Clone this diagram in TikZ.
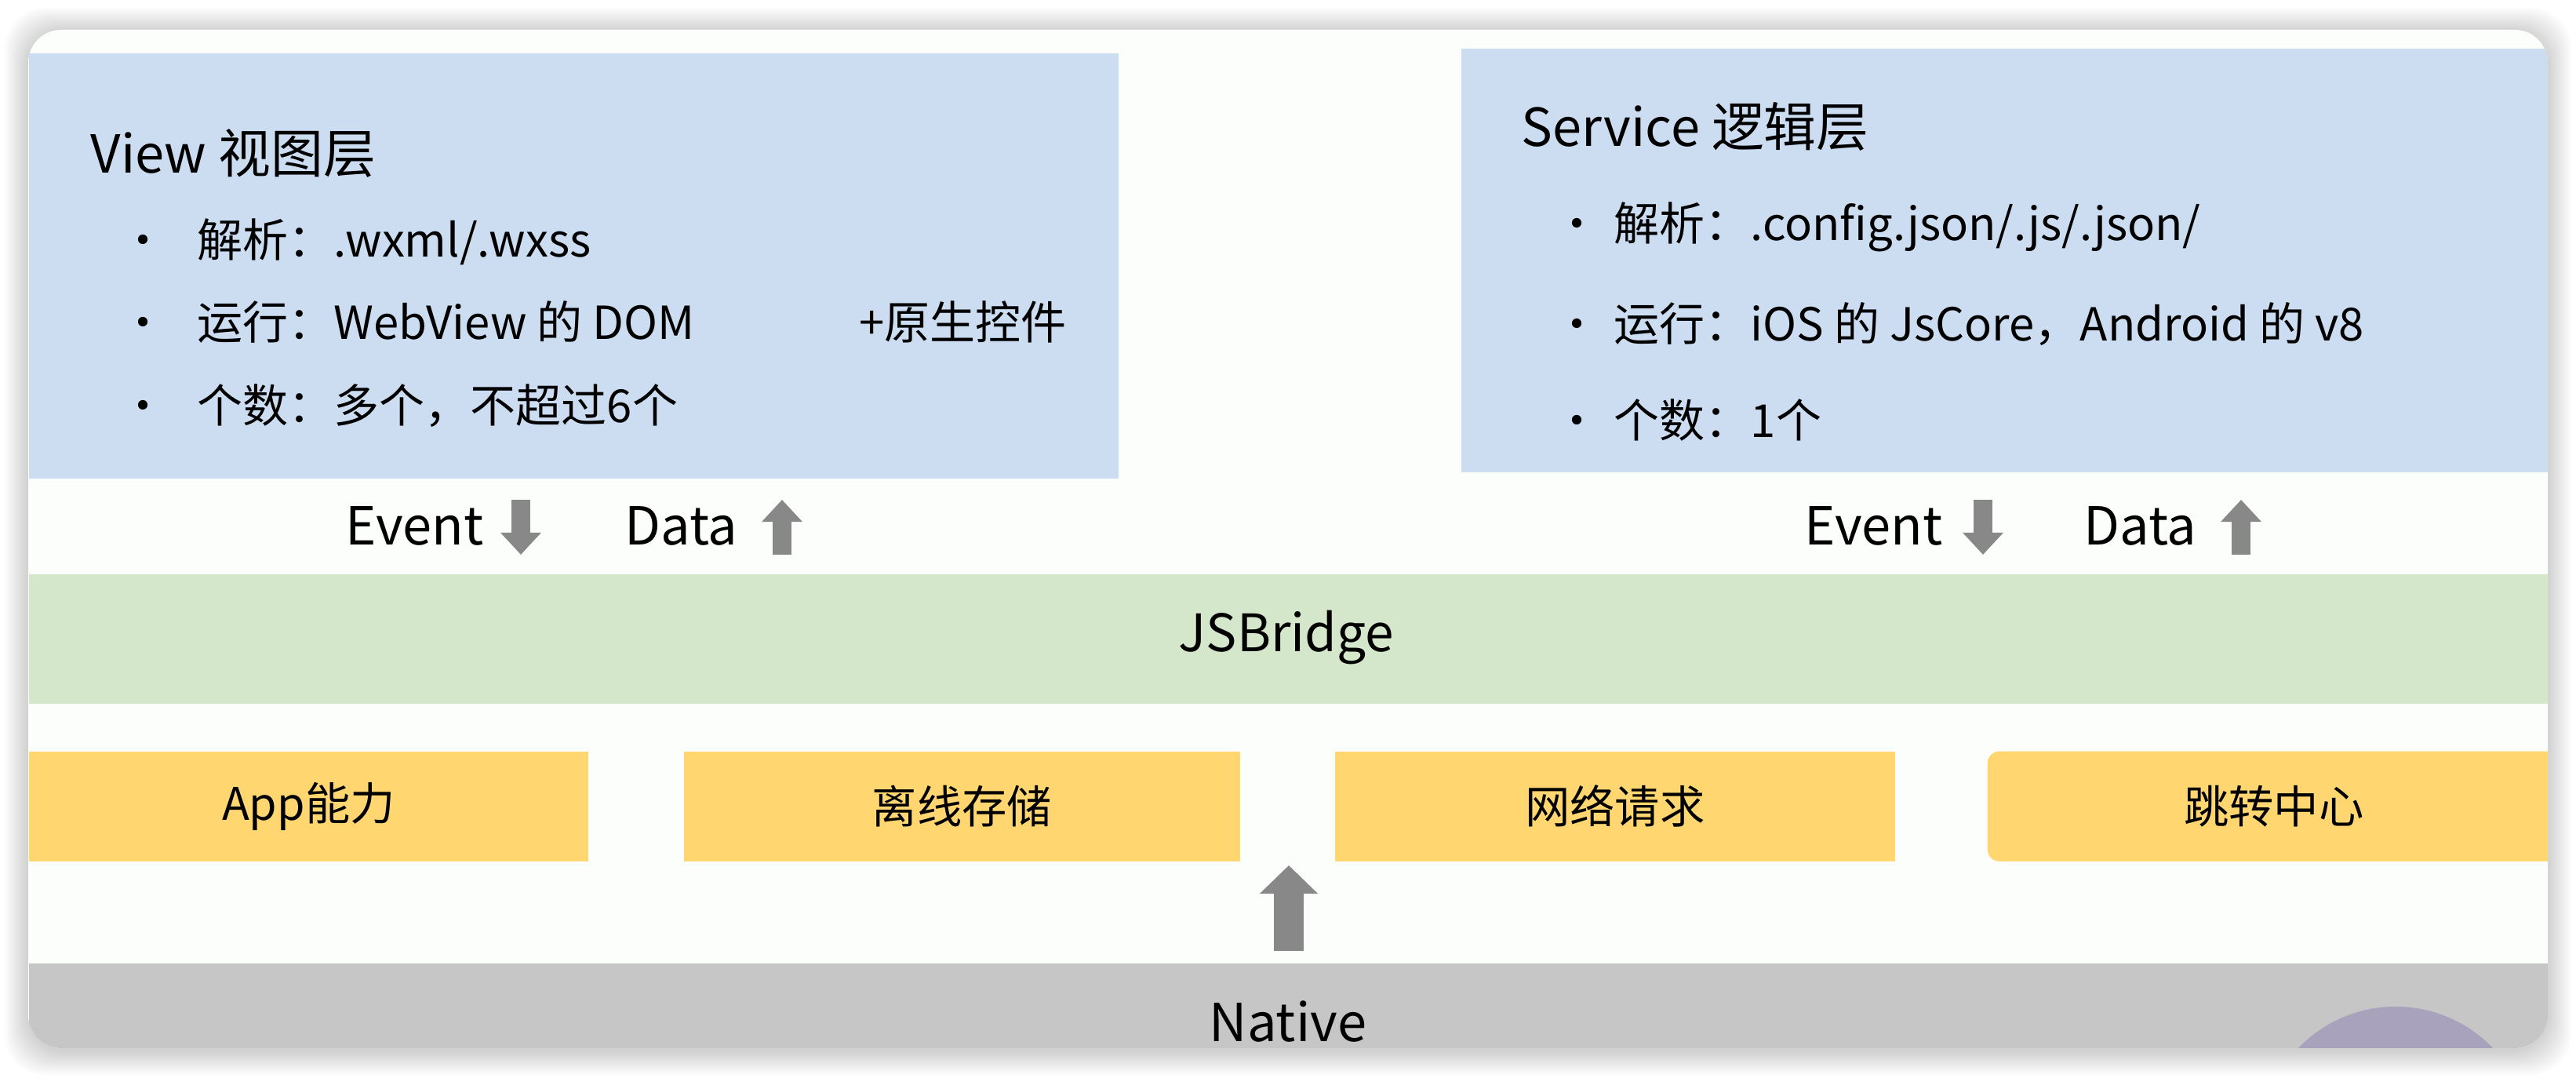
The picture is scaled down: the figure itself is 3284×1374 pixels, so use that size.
\documentclass[tikz,border=0pt]{standalone}
\usepackage{fontspec}
\setmainfont{Noto Sans CJK SC}
\usetikzlibrary{arrows.meta, positioning}
\definecolor{viewblue}{RGB}{204,221,241}
\definecolor{bridgegreen}{RGB}{213,231,203}
\definecolor{nativegrey}{RGB}{198,198,198}
\definecolor{apiyellow}{RGB}{255,214,112}
\definecolor{flowgrey}{RGB}{136,136,136}
\definecolor{cardwhite}{RGB}{252,254,252}
\definecolor{avatar}{RGB}{169,162,189}
\newcommand{\dotitem}[2]{\makebox[0pt][c]{•}\hspace{#1}#2}

\begin{document}
\begin{tikzpicture}[
  x=0.01cm, y=-0.01cm,
  every node/.style={inner sep=0pt, text=black},
  band/.style={anchor=north west, minimum width=32.12cm},
  title/.style={anchor=west, font=\fontsize{19pt}{22pt}\selectfont},
  item/.style={anchor=west, font=\fontsize{16.5pt}{20pt}\selectfont},
  flow/.style={anchor=west, font=\fontsize{19pt}{22pt}\selectfont},
  api/.style={fill=apiyellow, minimum width=7.13cm, minimum height=1.40cm,
    anchor=north west, font=\fontsize{16.3pt}{19pt}\selectfont},
  fatarr/.style={-{Triangle[width=0.50cm, length=0.28cm]}, line width=0.24cm, flowgrey},
  bigarr/.style={-{Triangle[width=0.72cm, length=0.36cm]}, line width=0.38cm, flowgrey}
]
\useasboundingbox (0,0) rectangle (3284,1374);
\fill[white] (0,0) rectangle (3284,1374);

% card shadow
\foreach \s in {2,4,...,30}
  \fill[black, opacity=0.01, rounded corners=0.5cm] ({36-\s},{40-\s}) rectangle ({3248+\s},{1340+\s});
\fill[cardwhite, rounded corners=0.42cm] (36,38) rectangle (3248,1336);

\begin{scope}
\clip[rounded corners=0.42cm] (36,38) rectangle (3248,1336);

% View layer
\node[fill=viewblue, anchor=north west, minimum width=13.88cm, minimum height=5.42cm] (view) at (36,67) {};
\node[title] (vtitle) at (115,195) {View 视图层};
\node[item] (v1) at (182,308) {\dotitem{0.69cm}{解析：.wxml/.wxss}};
\node[item] (v2) at (182,410) {\dotitem{0.69cm}{运行：WebView 的 DOM}};
\node[item] (v2b) at (1095,410) {+原生控件};
\node[item] (v3) at (182,517) {\dotitem{0.69cm}{个数：多个，不超过6个}};

% Service layer
\node[fill=viewblue, anchor=north west, minimum width=13.86cm, minimum height=5.40cm] (service) at (1862,61) {};
\node[title] (stitle) at (1939,161) {Service 逻辑层};
\node[item] (s1) at (2010,289) {\dotitem{0.47cm}{解析：.config.json/.js/.json/}};
\node[item] (s2) at (2010,413) {\dotitem{0.47cm}{运行：iOS 的 JsCore，Android 的 v8}};
\node[item] (s3) at (2010,536) {\dotitem{0.47cm}{个数：1个}};

% Event / Data
\node[flow] (evL) at (440,670) {Event};
\node[flow] (daL) at (796,670) {Data};
\node[flow] (evR) at (2300,670) {Event};
\node[flow] (daR) at (2656,670) {Data};
\coordinate (evLa) at (664,637); \coordinate (evLb) at (664,707);
\coordinate (daLa) at (997,707); \coordinate (daLb) at (997,637);
\coordinate (evRa) at (2528,637); \coordinate (evRb) at (2528,707);
\coordinate (daRa) at (2857,707); \coordinate (daRb) at (2857,637);
\draw[fatarr] (evLa) -- (evLb);
\draw[fatarr] (daLa) -- (daLb);
\draw[fatarr] (evRa) -- (evRb);
\draw[fatarr] (daRa) -- (daRb);

% JSBridge
\node[band, fill=bridgegreen, minimum height=1.65cm] (bridge) at (36,731) {};
\node[font=\fontsize{18.7pt}{22pt}\selectfont] (bridgetxt) at (1640,813) {JSBridge};

% Native abilities
\node[api] (app) at (36,957) {App能力};
\node[api, minimum width=7.09cm] (store) at (871,957) {离线存储};
\node[api, minimum width=7.14cm] (net) at (1701,957) {网络请求};
\node[api, rounded corners=0.15cm, minimum width=7.30cm] (jump) at (2533,957) {跳转中心};

% Native
\node[band, fill=nativegrey, minimum height=1.12cm] (native) at (36,1227) {};
\node[font=\fontsize{19pt}{22pt}\selectfont, anchor=base] (nativetxt) at (1642,1328) {Native};
\coordinate (upa) at (1643,1212); \coordinate (upb) at (1643,1103);
\draw[bigarr] (upa) -- (upb);

\fill[avatar] (3054,1455) circle (172);
\end{scope}

\end{tikzpicture}
\end{document}
